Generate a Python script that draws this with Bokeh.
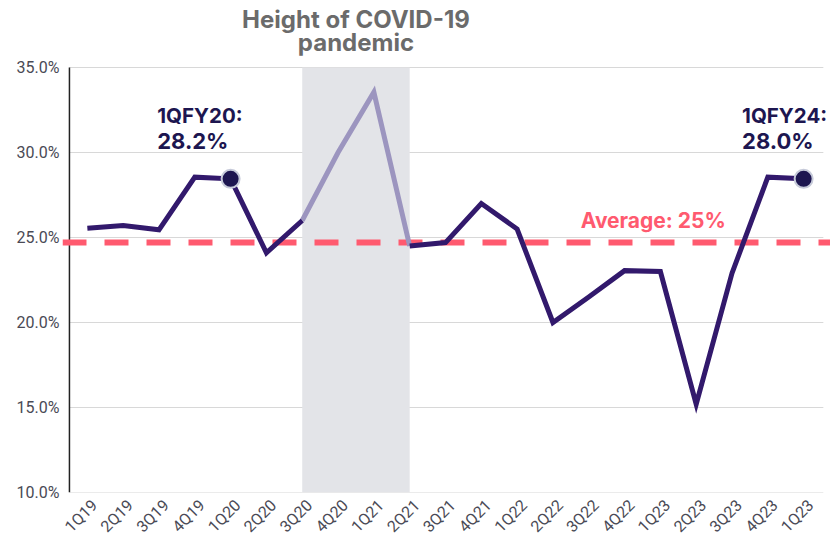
from bokeh.plotting import figure
from bokeh.models import FixedTicker, PrintfTickFormatter, Label, Range1d, ColumnDataSource
from bokeh.embed import file_html
from bokeh.resources import INLINE
import math

# ---- data ----
quarters = ["1Q19", "2Q19", "3Q19", "4Q19", "1Q20", "2Q20", "3Q20", "4Q20", "1Q21", "2Q21",
            "3Q21", "4Q21", "1Q22", "2Q22", "3Q22", "4Q22", "1Q23", "2Q23", "3Q23", "4Q23", "1Q23"]
values = [25.55, 25.7, 25.45, 28.55, 28.45, 24.1, 26.0, 30.0, 33.55, 24.5,
          24.7, 27.0, 25.5, 20.0, 21.5, 23.05, 23.0, 15.2, 22.9, 28.55, 28.45]
covid_start_idx = 6   # 3Q20
covid_end_idx = 9     # 2Q21
average_value = 24.7
highlight_idx = [4, 20]
highlight_titles = ["1QFY20:", "1QFY24:"]
highlight_texts = ["28.2%", "28.0%"]
title_lines = ["Height of COVID-19", "pandemic"]
average_text = "Average: 25%"
y_ticks = [10, 15, 20, 25, 30, 35]

x_idx = list(range(len(values)))
LABEL_SHIFT = 0.2  # rotated tick labels sit slightly right of each point

# plotting extents (axis area vs. full canvas area)
X_AXIS_START, X_AXIS_END = -0.5, 20.55
X_VIEW_START, X_VIEW_END = -0.694, 20.75
Y_VIEW_END = 38.94

DARK = "#32196c"
LIGHT = "#9c95bf"
NAVY = "#1d1650"
PINK = "#ff5a6f"
GRAYTXT = "#6b6b6b"

p = figure(width=830, height=545, output_backend="svg", toolbar_location=None,
           x_range=Range1d(X_VIEW_START, X_VIEW_END), y_range=Range1d(y_ticks[0], Y_VIEW_END),
           min_border_left=62, min_border_top=0, min_border_bottom=53, min_border_right=0)
p.outline_line_color = None
p.background_fill_color = "white"
p.border_fill_color = "white"

# horizontal grid lines (drawn as segments so they stop at the chart edge)
p.segment(x0=[X_AXIS_START] * len(y_ticks), x1=[X_AXIS_END] * len(y_ticks), y0=y_ticks, y1=y_ticks,
          line_color="#d8d8d8", line_width=1.2)

# covid band
p.quad(left=[covid_start_idx], right=[covid_end_idx], bottom=[y_ticks[0]], top=[y_ticks[-1]],
       fill_color="#e3e4e8", line_color=None)

# y axis line
p.segment(x0=[X_AXIS_START], x1=[X_AXIS_START], y0=[y_ticks[0]], y1=[y_ticks[-1]],
          line_color="#222222", line_width=1.5)

# average dashed line
p.line(x=[X_VIEW_START, X_VIEW_END], y=[average_value, average_value], line_color=PINK, line_width=6,
       line_dash="24 18")

# main lines
pre = ColumnDataSource(dict(x=x_idx[:covid_start_idx + 1], y=values[:covid_start_idx + 1]))
mid = ColumnDataSource(dict(x=x_idx[covid_start_idx:covid_end_idx + 1], y=values[covid_start_idx:covid_end_idx + 1]))
post = ColumnDataSource(dict(x=x_idx[covid_end_idx:], y=values[covid_end_idx:]))
p.line("x", "y", source=mid, line_color=LIGHT, line_width=5, line_join="miter")
p.line("x", "y", source=pre, line_color=DARK, line_width=5, line_join="miter")
p.line("x", "y", source=post, line_color=DARK, line_width=5, line_join="miter")

# highlight points
p.scatter([x_idx[i] for i in highlight_idx], [values[i] for i in highlight_idx], size=18,
          fill_color=NAVY, line_color="#c6cad9", line_width=2)

# annotations
label_x = [1.95, 18.28]
for lx, t1, t2 in zip(label_x, highlight_titles, highlight_texts):
    p.add_layout(Label(x=lx, y=31.43, text=t1, text_font="Inter", text_font_style="bold",
                       text_font_size="20.5px", text_color=NAVY, text_baseline="bottom"))
    p.add_layout(Label(x=lx, y=29.9, text=t2, text_font="Inter", text_font_style="bold",
                       text_font_size="22px", text_color=NAVY, text_baseline="bottom"))

p.add_layout(Label(x=15.8, y=25.27, text=average_text, text_font="Inter", text_font_style="bold",
                   text_font_size="21px", text_color=PINK, text_align="center", text_baseline="bottom"))

band_center = (covid_start_idx + covid_end_idx) / 2
p.add_layout(Label(x=band_center, y=37.8, text=title_lines[0], text_font="Inter",
                   text_font_style="bold", text_font_size="24px", text_color=GRAYTXT,
                   text_align="center", text_baseline="alphabetic"))
p.add_layout(Label(x=band_center, y=36.45, text=title_lines[1], text_font="Inter",
                   text_font_style="bold", text_font_size="24px", text_color=GRAYTXT,
                   text_align="center", text_baseline="alphabetic"))

# axes
tick_pos = [i + LABEL_SHIFT for i in x_idx]
p.xaxis.ticker = FixedTicker(ticks=tick_pos)
p.xaxis.major_label_overrides = {t: q for t, q in zip(tick_pos, quarters)}
p.xaxis.major_label_orientation = math.pi / 4
p.xaxis.axis_line_color = None
p.xaxis.major_tick_line_color = None
p.xaxis.minor_tick_line_color = None
p.xaxis.major_tick_out = 0
p.xaxis.major_tick_in = 0
p.xaxis.major_label_text_font = "Roboto"
p.xaxis.major_label_text_font_size = "16px"
p.xaxis.major_label_text_color = "#4a4a55"
p.xaxis.major_label_standoff = 10

p.yaxis.ticker = FixedTicker(ticks=y_ticks)
p.yaxis.formatter = PrintfTickFormatter(format="%.1f%%")
p.yaxis.axis_line_color = None
p.yaxis.major_tick_line_color = None
p.yaxis.minor_tick_line_color = None
p.yaxis.major_tick_out = 0
p.yaxis.major_tick_in = 0
p.yaxis.major_label_text_font = "Roboto"
p.yaxis.major_label_text_font_size = "16px"
p.yaxis.major_label_text_color = "#4a4a55"
p.yaxis.major_label_standoff = 3

p.xgrid.grid_line_color = None
p.ygrid.grid_line_color = None

open("out.html", "w").write(file_html(p, INLINE))
